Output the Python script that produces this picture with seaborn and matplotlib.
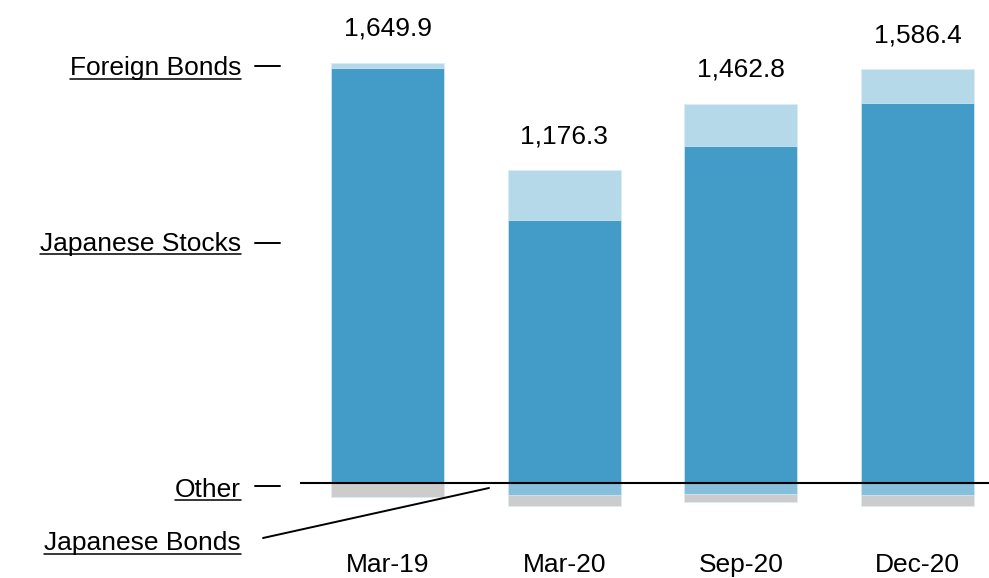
import numpy as np
import pandas as pd
import matplotlib
matplotlib.use("Agg")
import matplotlib.pyplot as plt
from matplotlib.lines import Line2D
import seaborn as sns

# Portfolio composition by period (positive and negative contributions)
periods = ["Mar-19", "Mar-20", "Sep-20", "Dec-20"]
japanese_stocks = [1685.9, 1068.0, 1367.8, 1541.9]
foreign_bonds = [22.0, 203.0, 172.0, 138.0]
japanese_bonds = [0.0, -50.0, -47.0, -50.0]
other = [-58.0, -44.7, -30.0, -43.5]

DARK = "#429cc7"
LIGHT = "#b5d9e8"
MID = "#86bfdb"
GREY = "#cccccc"
EDGE = "#dcedf5"

sns.set_style("white")
plt.rcParams["font.family"] = ["Liberation Sans", "DejaVu Sans"]

W, H = 989, 578
fig = plt.figure(figsize=(W / 100, H / 100), dpi=100)
ax = fig.add_axes([300 / W, 1 - 520 / H, 689 / W, 520 / H])

df = pd.DataFrame({
    "period": periods,
    "stocks": japanese_stocks,
    "foreign": foreign_bonds,
    "jbonds": japanese_bonds,
    "other": other,
})
# cumulative stack edges
df["pos_top"] = df["stocks"] + df["foreign"]
df["neg_bottom"] = df["jbonds"] + df["other"]
df["net"] = df["pos_top"] + df["neg_bottom"]

common = dict(x="period", order=periods, width=0.64, errorbar=None,
              saturation=1, edgecolor=EDGE, linewidth=0.5, ax=ax)

# stacked bars drawn as overlapping cumulative layers
sns.barplot(data=df, y="pos_top", color=LIGHT, **common)
sns.barplot(data=df, y="stocks", color=DARK, **common)
sns.barplot(data=df, y="neg_bottom", color=GREY, **common)
sns.barplot(data=df, y="jbonds", color=MID, **common)

ax.axhline(0, color="black", lw=1.5, zorder=5)

# net totals above each bar
for i, (top, val) in enumerate(zip(df["pos_top"], df["net"])):
    ax.annotate(f"{val:,.1f}", xy=(i, top), xytext=(0, 24.5),
                textcoords="offset points", ha="center", va="center",
                fontsize=19, color="black")

ax.set_xlim(-0.4953, 3.4047)
ax.set_ylim(-151.6, 1962.2)
ax.set_xlabel("")
ax.set_ylabel("")
ax.set_yticks([])
ax.tick_params(axis="x", length=0, pad=24, labelsize=19, colors="black")
sns.despine(ax=ax, left=True, bottom=True)


def fx(px):
    return px / W


def fy(py):
    return 1 - py / H


# series labels on the left, underlined, with pointer marks
labels = [
    ("Foreign Bonds", 75.0),
    ("Japanese Stocks", 250.7),
    ("Other", 496.7),
    ("Japanese Bonds", 550.0),
]
texts = []
for name, base in labels:
    t = fig.text(fx(241), fy(base), name, ha="right", va="baseline",
                 fontsize=19, color="black")
    texts.append((t, base))

fig.canvas.draw()
renderer = fig.canvas.get_renderer()
for t, base in texts:
    bb = t.get_window_extent(renderer)
    fig.add_artist(Line2D([bb.x0 / W, bb.x1 / W], [fy(base + 3.5)] * 2,
                          transform=fig.transFigure, color="black", lw=1.1))

for py in (66.0, 242.7, 486.0):
    fig.add_artist(Line2D([fx(255), fx(280)], [fy(py)] * 2,
                          transform=fig.transFigure, color="black", lw=1.4))

fig.add_artist(Line2D([fx(263), fx(489)], [fy(538), fy(488)],
                      transform=fig.transFigure, color="black", lw=1.4))

fig.savefig("out.png", dpi=100)
